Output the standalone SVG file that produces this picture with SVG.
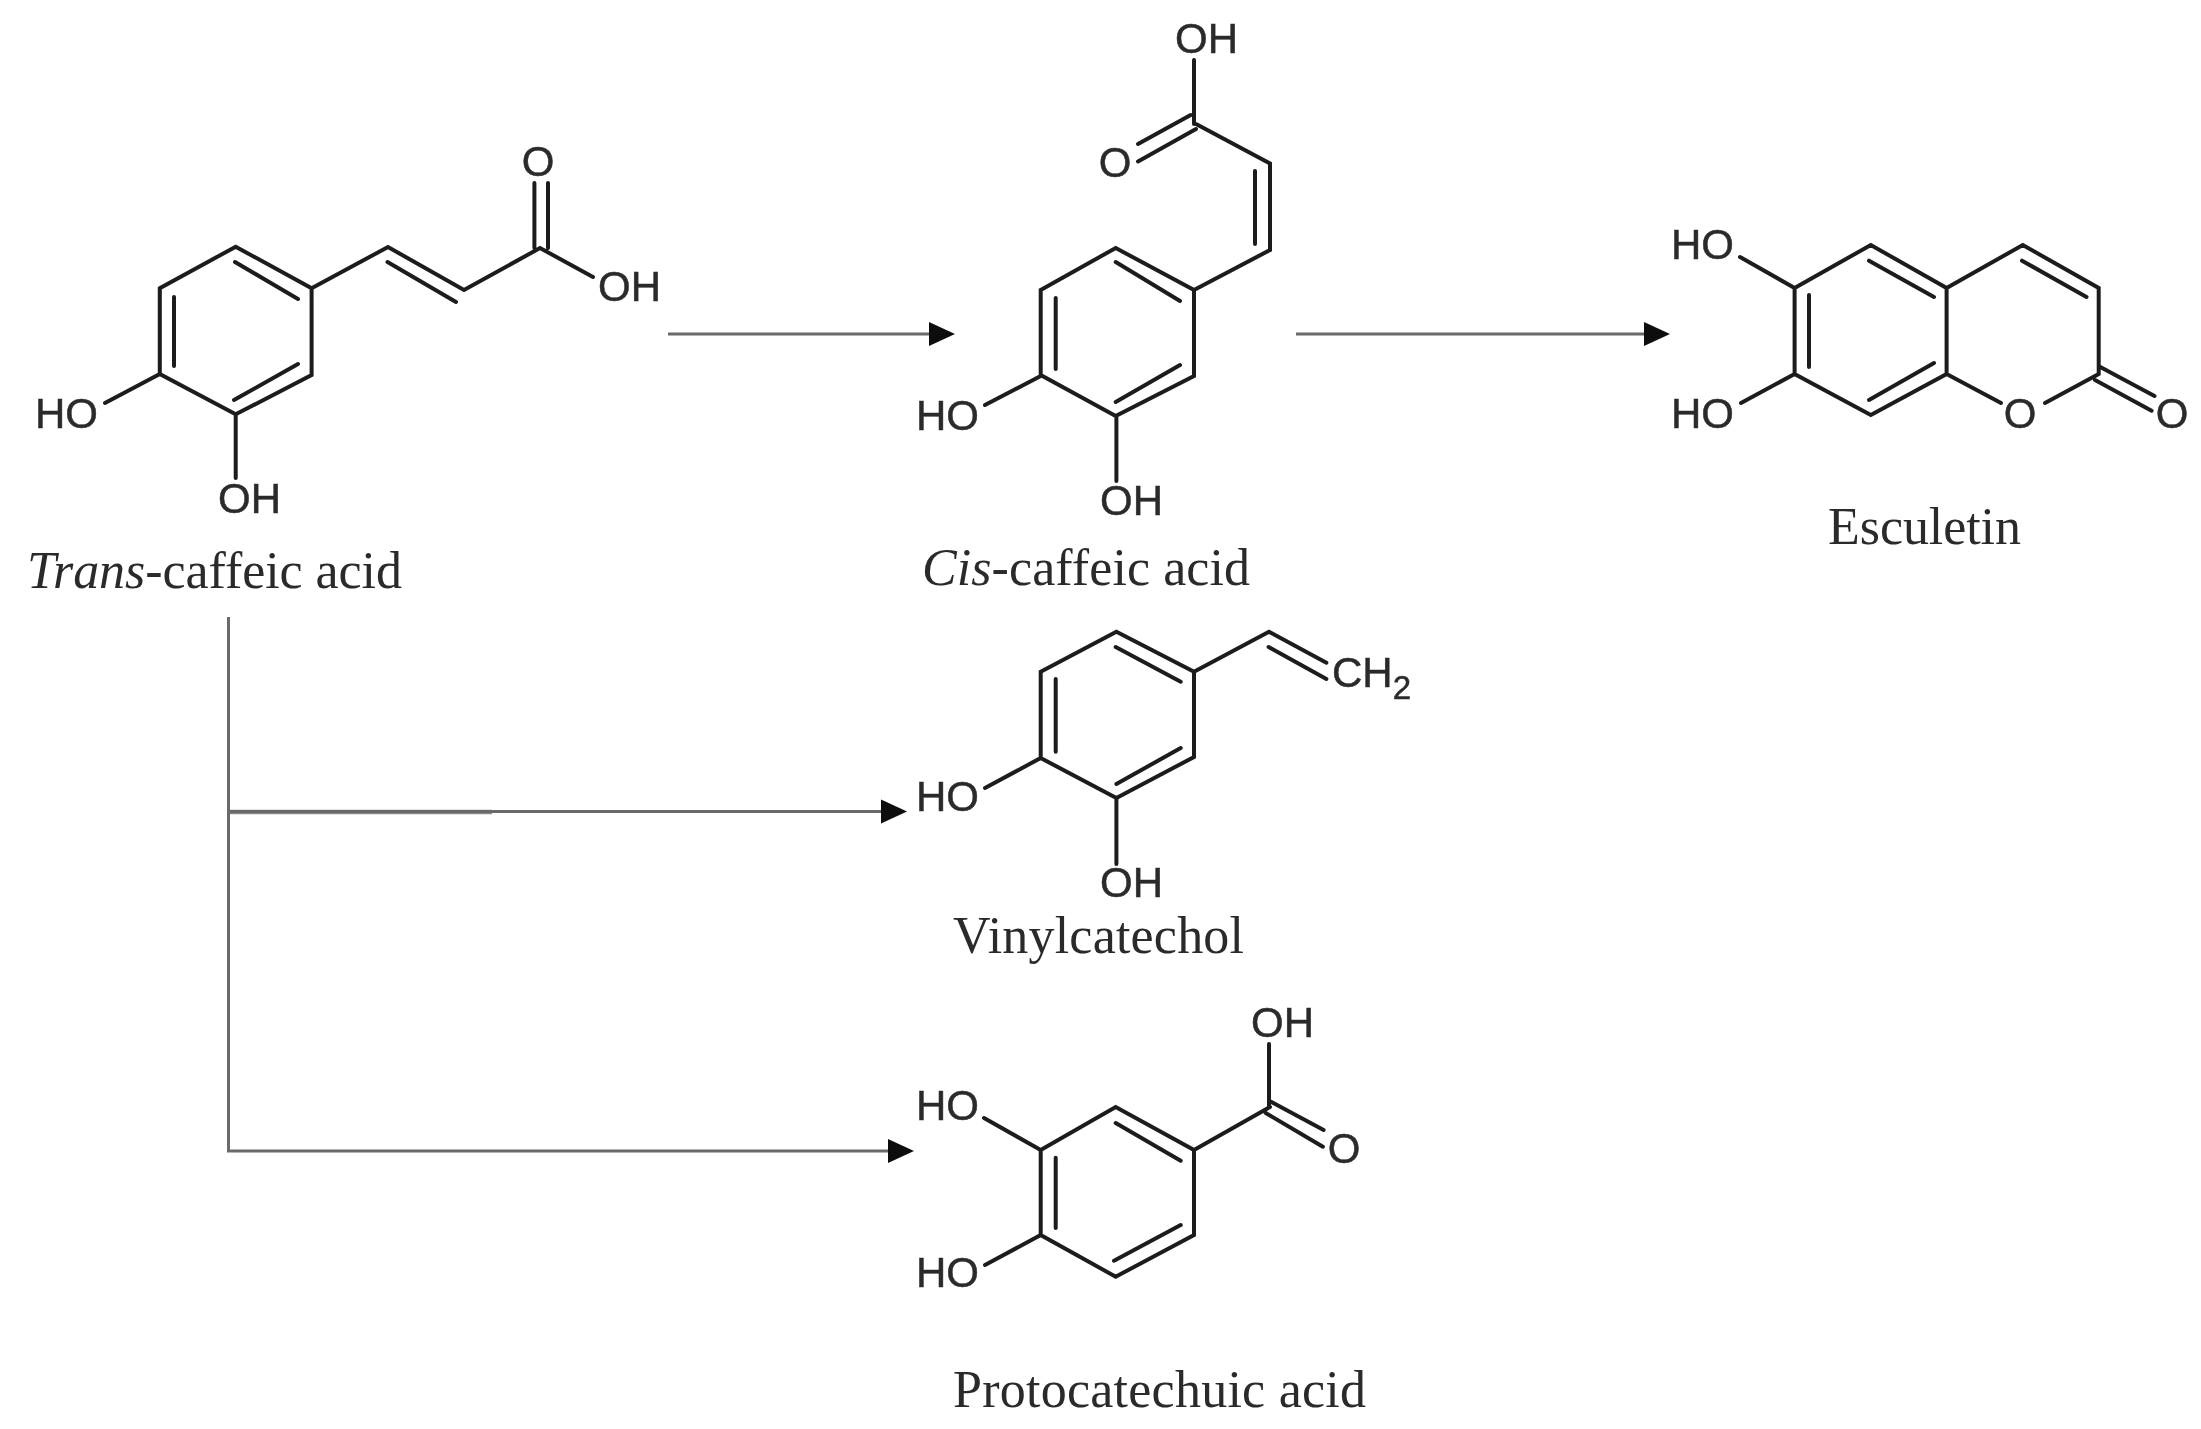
<svg xmlns="http://www.w3.org/2000/svg" width="2201" height="1429" viewBox="0 0 2201 1429">
<style>
.b{fill:none;stroke:#1c1c1c;stroke-width:4;stroke-linecap:round;stroke-linejoin:miter}
.c{fill:none;stroke:#6a6a6a;stroke-width:3}
.w{fill:none;stroke:#8a8a8a;stroke-width:4.5}
.a{font-family:"Liberation Sans",Arial,sans-serif;font-size:42px;fill:#2c2c2c;stroke:#2c2c2c;stroke-width:.5}
.s{font-size:33px}
.l{font-family:"Liberation Serif","Times New Roman",serif;font-size:52px;fill:#2c2c2c}
.i{font-style:italic}
</style>
<defs>
<marker id="h" markerUnits="userSpaceOnUse" markerWidth="27" markerHeight="26" refX="1" refY="13" orient="auto"><path d="M0 1L26 13L0 25Z" fill="#0c0c0c"/></marker>
<filter id="soft" x="0" y="0" width="2201" height="1429" filterUnits="userSpaceOnUse"><feGaussianBlur stdDeviation="0.7"/></filter>
</defs>
<rect width="2201" height="1429" fill="#fff"/>
<g filter="url(#soft)">
<g id="connectors">
<path class="c" d="M668 334H930" marker-end="url(#h)"/>
<path class="c" d="M1296 334H1645" marker-end="url(#h)"/>
<path class="w" d="M228.500 812H492"/>
<path class="c" d="M228.500 617V1151H889" marker-end="url(#h)"/>
<path class="c" d="M228.500 811.500H882" marker-end="url(#h)"/>
</g>
<g id="trans-caffeic-acid">
<path class="b" d="M235.700 246.700L311.600 288.300V375L235.700 414.300L159.800 374V288.300ZM235 262L298 299M174 297V366M298 364L234 400M311.600 288.300L388 247L464 290L540 248L593 277M387.500 262L456 302M534.400 248V183M548 248V183M159.800 374L105 403M235.700 414.300V478"/>
<text class="a" x="538" y="176" text-anchor="middle">O</text>
<text class="a" x="598" y="301">OH</text>
<text class="a" x="35" y="428">HO</text>
<text class="a" x="218" y="513">OH</text>
<text class="l" x="27" y="588" textLength="375"><tspan class="i">Trans</tspan>-caffeic acid</text>
</g>
<g id="cis-caffeic-acid">
<path class="b" d="M1040.700 290L1115.700 248L1194 290V376L1115.700 416L1040.700 375ZM1115.700 262L1180 301M1055.700 298V369M1180 365L1115.700 402M1194 290L1270 250V163.500L1196 124M1255 244V171M1194 124V60M1190.700 115L1138 144M1196 129L1138 161.500M1040.700 376L985 405M1116.400 416V481"/>
<text class="a" x="1115" y="177" text-anchor="middle">O</text>
<text class="a" x="1175" y="53">OH</text>
<text class="a" x="916" y="430">HO</text>
<text class="a" x="1100" y="515">OH</text>
<text class="l" x="922" y="585" textLength="328"><tspan class="i">Cis</tspan>-caffeic acid</text>
</g>
<g id="esculetin">
<path class="b" d="M1794.600 288L1870.800 245L1946.600 288V374L1870.800 415L1794.600 374ZM1869 260.700L1934 297M1809 295V367M1934 363L1869 400M1946.600 288L2022.800 245L2098.700 288V374L2045 403M1946.600 374L2001 403M2022 260.700L2086.500 297M2099.800 366.700L2154.500 396M2095 380L2151.600 410.700M1740 257L1794.600 288M1741 403L1794.600 374"/>
<text class="a" x="2020" y="428" text-anchor="middle">O</text>
<text class="a" x="2172" y="428" text-anchor="middle">O</text>
<text class="a" x="1671" y="259">HO</text>
<text class="a" x="1671" y="428">HO</text>
<text class="l" x="1828" y="544" textLength="193">Esculetin</text>
</g>
<g id="vinylcatechol">
<path class="b" d="M1040.700 671.700L1116.400 631.700L1194 671.700V757L1116.400 798L1040.700 758ZM1115.700 647L1180.700 681.700M1055.700 679V751.700M1180.700 748L1116.400 784M1194 671.700L1269 631.700L1326.400 662.700M1268.600 647L1326.400 679M1040.700 758L985 788M1116.400 798V864"/>
<text class="a" x="1332" y="687">CH<tspan class="s" dy="12">2</tspan></text>
<text class="a" x="916" y="811">HO</text>
<text class="a" x="1100" y="897">OH</text>
<text class="l" x="953" y="953" textLength="291">Vinylcatechol</text>
</g>
<g id="protocatechuic-acid">
<path class="b" d="M1040.700 1150L1115.700 1107L1194 1150V1235L1115.700 1276.700L1040.700 1235ZM1115.700 1123L1180.700 1160.700M1055.700 1157.700V1228M1180.700 1225L1114 1260.700M1194 1150L1270 1107M1269 1107V1044M1271 1101.700L1323.600 1130M1265.700 1113L1322.900 1146.700M984 1118L1040.700 1150M985 1265L1040.700 1235"/>
<text class="a" x="1251" y="1037">OH</text>
<text class="a" x="1344" y="1163" text-anchor="middle">O</text>
<text class="a" x="916" y="1120">HO</text>
<text class="a" x="916" y="1287">HO</text>
<text class="l" x="953" y="1407" textLength="413">Protocatechuic acid</text>
</g>
</g>
</svg>
